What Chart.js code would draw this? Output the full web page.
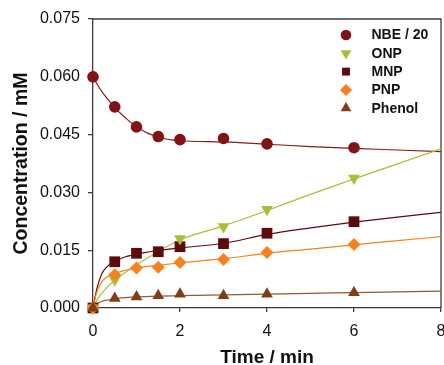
<!DOCTYPE html>
<html>
<head>
<meta charset="utf-8">
<script src="https://cdn.jsdelivr.net/npm/chart.js@4/dist/chart.umd.min.js"></script>
<style>
  html, body { margin: 0; padding: 0; background: #fff; overflow: hidden; }
  #wrap { width: 444px; height: 365px; position: relative; }
</style>
</head>
<body>
<div id="wrap"><canvas id="c" width="444" height="365"></canvas></div>
<script>
// Sampling times (min) and measured concentrations (mM)
const times  = [0, 0.5, 1, 1.5, 2, 3, 4, 6];
const nbe    = [0.0600, 0.0522, 0.0470, 0.0445, 0.0437, 0.0440, 0.0426, 0.0416];
const onp    = [0, 0.0073, null, null, 0.0180, 0.0211, 0.0256, 0.0337];
const mnp    = [0, 0.0120, 0.0142, 0.0146, 0.0159, 0.0167, 0.0194, 0.0224];
const pnp    = [0, 0.0086, 0.0104, 0.0106, 0.0118, 0.0126, 0.0144, 0.0165];
const phenol = [0, 0.0025, 0.0029, 0.0032, 0.0036, 0.0032, 0.0036, 0.0040];

// Fitted kinetic curves
const fitTimes  = [0, 0.05, 0.1, 0.2, 0.3, 0.5, 0.75, 1, 1.5, 2, 3, 4, 5, 6, 7, 8];
const nbeFit    = [0.0600, 0.0590, 0.0580, 0.0562, 0.0547, 0.0520, 0.0493, 0.0470, 0.0443, 0.0434, 0.0431, 0.0425, 0.0419, 0.0414, 0.0410, 0.0406];
const onpFit    = [0, 0.0012, 0.0022, 0.0038, 0.0051, 0.0072, 0.0093, 0.0112, 0.0146, 0.0177, 0.0213, 0.0253, 0.0295, 0.0335, 0.0374, 0.0413];
const mnpFit    = [0, 0.0030, 0.0055, 0.0088, 0.0105, 0.0121, 0.0133, 0.0140, 0.0149, 0.0156, 0.0168, 0.0191, 0.0208, 0.0223, 0.0236, 0.0248];
const pnpFit    = [0, 0.0025, 0.0045, 0.0068, 0.0079, 0.0090, 0.0098, 0.0104, 0.0111, 0.0117, 0.0128, 0.0142, 0.0153, 0.0164, 0.0175, 0.0185];
const phenolFit = [0, 0.0006, 0.0011, 0.0017, 0.0020, 0.0024, 0.0027, 0.0029, 0.0031, 0.0032, 0.0034, 0.0036, 0.0038, 0.0040, 0.0042, 0.0044];

// Axis ticks
const xTicks = [0, 2, 4, 6, 8];
const yTicks = [0, 0.015, 0.030, 0.045, 0.060, 0.075];

const series = [
  { label: 'NBE / 20', data: nbe,    fit: nbeFit,    color: '#7f1518', line: '#8b1a1e', style: 'circle',   radius: 5.8, rot: 0,   legendR: 5.3, z: 4 },
  { label: 'ONP',      data: onp,    fit: onpFit,    color: '#aebc34', line: '#aebc34', style: 'triangle', radius: 6.8, rot: 180, legendR: 6.2, z: 2 },
  { label: 'MNP',      data: mnp,    fit: mnpFit,    color: '#5e0b0d', line: '#5e0b0d', style: 'rect',     radius: 7.6, rot: 0,   legendR: 5.6, z: 3 },
  { label: 'PNP',      data: pnp,    fit: pnpFit,    color: '#f5821f', line: '#f5821f', style: 'rectRot',  radius: 6.5, rot: 0,   legendR: 6.0, z: 1 },
  { label: 'Phenol',   data: phenol, fit: phenolFit, color: '#7e3f18', line: '#8f5a3a', style: 'triangle', radius: 6.8, rot: 0,   legendR: 6.2, z: 0 }
];

const pairs = (xs, ys) => xs.map((x, i) => ({ x: x, y: ys[i] })).filter(p => p.y !== null);

const datasets = [];
series.forEach(s => {
  datasets.push({
    label: s.label + ' fit',
    data: pairs(fitTimes, s.fit),
    showLine: true,
    borderColor: s.line,
    borderWidth: 1.2,
    pointRadius: 0,
    cubicInterpolationMode: 'monotone',
    fill: false,
    order: 20 + s.z
  });
});
series.forEach(s => {
  datasets.push({
    label: s.label,
    data: pairs(times, s.data),
    showLine: false,
    pointStyle: s.style,
    pointRotation: s.rot,
    pointRadius: s.radius,
    pointBackgroundColor: s.color,
    pointBorderColor: s.color,
    pointBorderWidth: 0,
    clip: false,
    order: s.z
  });
});

const axisColor = '#3c3c3c';
const FONT = "'Liberation Sans', Arial, sans-serif";

// Closes the plot frame and draws the in-plot legend
const framePlugin = {
  id: 'frame',
  beforeDatasetsDraw(chart) {
    const { ctx, chartArea: a } = chart;
    ctx.save();
    ctx.strokeStyle = axisColor;
    ctx.lineWidth = 1.3;
    ctx.beginPath();
    ctx.moveTo(a.left, a.top);
    ctx.lineTo(a.right, a.top);
    ctx.lineTo(a.right, a.bottom);
    ctx.stroke();
    ctx.restore();
  },
  afterDraw(chart) {
    const { ctx, chartArea: a } = chart;
    const mx = a.right - 95, tx = a.right - 69.5;
    let y = a.top + 16;
    ctx.save();
    ctx.font = 'bold 14px ' + FONT;
    ctx.textBaseline = 'middle';
    ctx.textAlign = 'left';
    series.forEach(s => {
      ctx.fillStyle = s.color;
      ctx.strokeStyle = s.color;
      ctx.lineWidth = 0;
      Chart.helpers.drawPoint(ctx, { pointStyle: s.style, radius: s.legendR, rotation: s.rot, borderWidth: 0 }, mx, y);
      ctx.fillStyle = '#111';
      ctx.fillText(s.label, tx, y + 0.5);
      y += 18.3;
    });
    ctx.restore();
  }
};

new Chart(document.getElementById('c'), {
  type: 'scatter',
  data: { datasets: datasets },
  options: {
    responsive: false,
    animation: false,
    events: [],
    layout: { autoPadding: false, padding: { top: 19, right: 3, left: 0, bottom: -4 } },
    plugins: { legend: { display: false }, tooltip: { enabled: false } },
    scales: {
      x: {
        type: 'linear',
        min: 0, max: 8,
        afterBuildTicks: sc => { sc.ticks = xTicks.map(v => ({ value: v })); },
        afterFit: sc => { sc.height = 61; sc.paddingLeft = 0; sc.paddingRight = 0; },
        border: { display: true, color: axisColor, width: 1.3 },
        grid: { drawOnChartArea: false, drawTicks: true, tickLength: 4, color: axisColor, lineWidth: 1.3 },
        ticks: { color: '#111', font: { family: FONT, size: 16 }, padding: 10, maxRotation: 0, autoSkip: false },
        title: { display: true, text: 'Time / min', color: '#111', font: { family: FONT, size: 19, weight: 'bold' }, padding: { top: 0, bottom: 0 } }
      },
      y: {
        type: 'linear',
        min: 0, max: 0.075,
        afterBuildTicks: sc => { sc.ticks = yTicks.map(v => ({ value: v })); },
        afterFit: sc => { sc.width = 93; sc.paddingTop = 0; sc.paddingBottom = 0; },
        border: { display: true, color: axisColor, width: 1.3 },
        grid: { drawOnChartArea: false, drawTicks: true, tickLength: 5, color: axisColor, lineWidth: 1.3 },
        ticks: { color: '#111', font: { family: FONT, size: 16 }, padding: 8, autoSkip: false, callback: v => Number(v).toFixed(3) },
        title: { display: true, text: 'Concentration / mM', color: '#111', font: { family: FONT, size: 19.5, weight: 'bold' }, padding: { top: 10, bottom: 0 } }
      }
    }
  },
  plugins: [framePlugin]
});
</script>
</body>
</html>
